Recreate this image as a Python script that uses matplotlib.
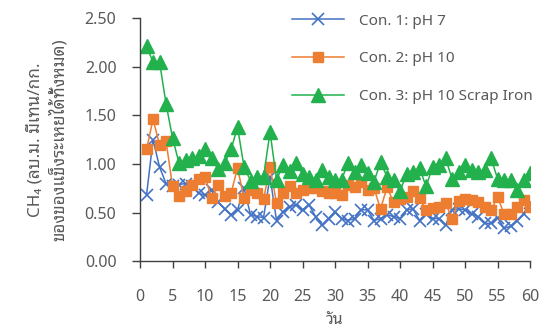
# CH4 yield per day for three conditions, Excel-style line chart
import matplotlib
matplotlib.use("Agg")
import matplotlib.pyplot as plt

plt.rcParams['font.family'] = ['Noto Sans', 'Noto Sans Thai Looped', 'DejaVu Sans']

days = list(range(1, 61))
con1 = [0.68, 1.25, 0.97, 0.80, 0.77, 0.79, 0.80, 0.77, 0.70, 0.68,
        0.73, 0.61, 0.54, 0.48, 0.53, 0.75, 0.48, 0.46, 0.45, 0.87,
        0.42, 0.51, 0.56, 0.58, 0.53, 0.58, 0.46, 0.37, 0.44, 0.51,
        0.44, 0.42, 0.44, 0.53, 0.53, 0.42, 0.44, 0.48, 0.46, 0.44,
        0.53, 0.54, 0.42, 0.49, 0.44, 0.44, 0.37, 0.53, 0.54, 0.53,
        0.49, 0.46, 0.39, 0.39, 0.45, 0.34, 0.36, 0.42, 0.49, 0.60]
con2 = [1.15, 1.46, 1.20, 1.24, 0.77, 0.67, 0.72, 0.79, 0.85, 0.87,
        0.65, 0.78, 0.67, 0.70, 0.96, 0.65, 0.73, 0.70, 0.64, 0.97,
        0.60, 0.70, 0.77, 0.70, 0.73, 0.75, 0.75, 0.72, 0.70, 0.70,
        0.68, 0.78, 0.76, 0.82, 0.73, 0.75, 0.54, 0.76, 0.61, 0.64,
        0.66, 0.72, 0.65, 0.53, 0.55, 0.56, 0.60, 0.44, 0.62, 0.64,
        0.63, 0.61, 0.56, 0.53, 0.66, 0.49, 0.49, 0.56, 0.63, 0.56]
con3 = [2.21, 2.05, 2.05, 1.62, 1.27, 1.01, 1.04, 1.06, 1.08, 1.15,
        1.06, 0.95, 1.01, 1.15, 1.38, 0.97, 0.83, 0.87, 0.87, 1.33,
        0.84, 0.99, 0.93, 1.01, 0.90, 0.87, 0.84, 0.94, 0.87, 0.84,
        0.84, 1.01, 0.92, 0.99, 0.91, 0.82, 1.02, 0.87, 0.84, 0.72,
        0.90, 0.92, 0.96, 0.77, 0.97, 0.99, 1.06, 0.85, 0.92, 0.99,
        0.94, 0.92, 0.94, 1.06, 0.85, 0.84, 0.84, 0.73, 0.84, 0.91]
labels = ["Con. 1: pH 7", "Con. 2: pH 10", "Con. 3: pH 10 Scrap Iron"]

grey = "#595959"
fig = plt.figure(figsize=(5.47, 3.3), dpi=100)
ax = fig.add_axes([0.256, 0.208, 0.713, 0.737])

ax.plot(days, con1, color="#4472C4", lw=1.1, marker="x", markersize=8,
        markeredgewidth=1.2, label=labels[0])
ax.plot(days, con2, color="#ED7D31", lw=1.1, marker="s", markersize=7,
        label=labels[1])
ax.plot(days, con3, color="#22B14C", lw=1.1, marker="^", markersize=9.5,
        label=labels[2])

ax.set_xlim(0, 60)
ax.set_ylim(0, 2.5)
ax.set_xticks(range(0, 61, 5))
ax.set_yticks([0, 0.5, 1.0, 1.5, 2.0, 2.5])
ax.set_yticklabels(["%.2f" % v for v in [0, 0.5, 1.0, 1.5, 2.0, 2.5]])

for s in ["top", "right"]:
    ax.spines[s].set_visible(False)
for s in ["left", "bottom"]:
    ax.spines[s].set_color("#404040")
    ax.spines[s].set_linewidth(1.0)
ax.tick_params(axis="y", length=6, width=1.0, color="#404040", pad=11,
               labelsize=11.5, labelcolor=grey)
ax.tick_params(axis="x", length=5, width=1.0, color="#404040", pad=15,
               labelsize=11.5, labelcolor=grey)

ax.set_xlabel("วัน", fontsize=11.5, color=grey, labelpad=5)
ax.set_ylabel("CH\u2084 (ลบ.ม. มีเทน/กก.\nของของแข็งระเหยได้ทั้งหมด)",
              fontsize=12.3, color=grey, labelpad=12, linespacing=1.4)

leg = ax.legend(loc="upper left", bbox_to_anchor=(0.39, 1.019), frameon=False,
                fontsize=11, handlelength=3.4, handletextpad=1.0,
                labelspacing=1.5, borderpad=0, borderaxespad=0)
for t in leg.get_texts():
    t.set_color(grey)

fig.savefig("out.png")
